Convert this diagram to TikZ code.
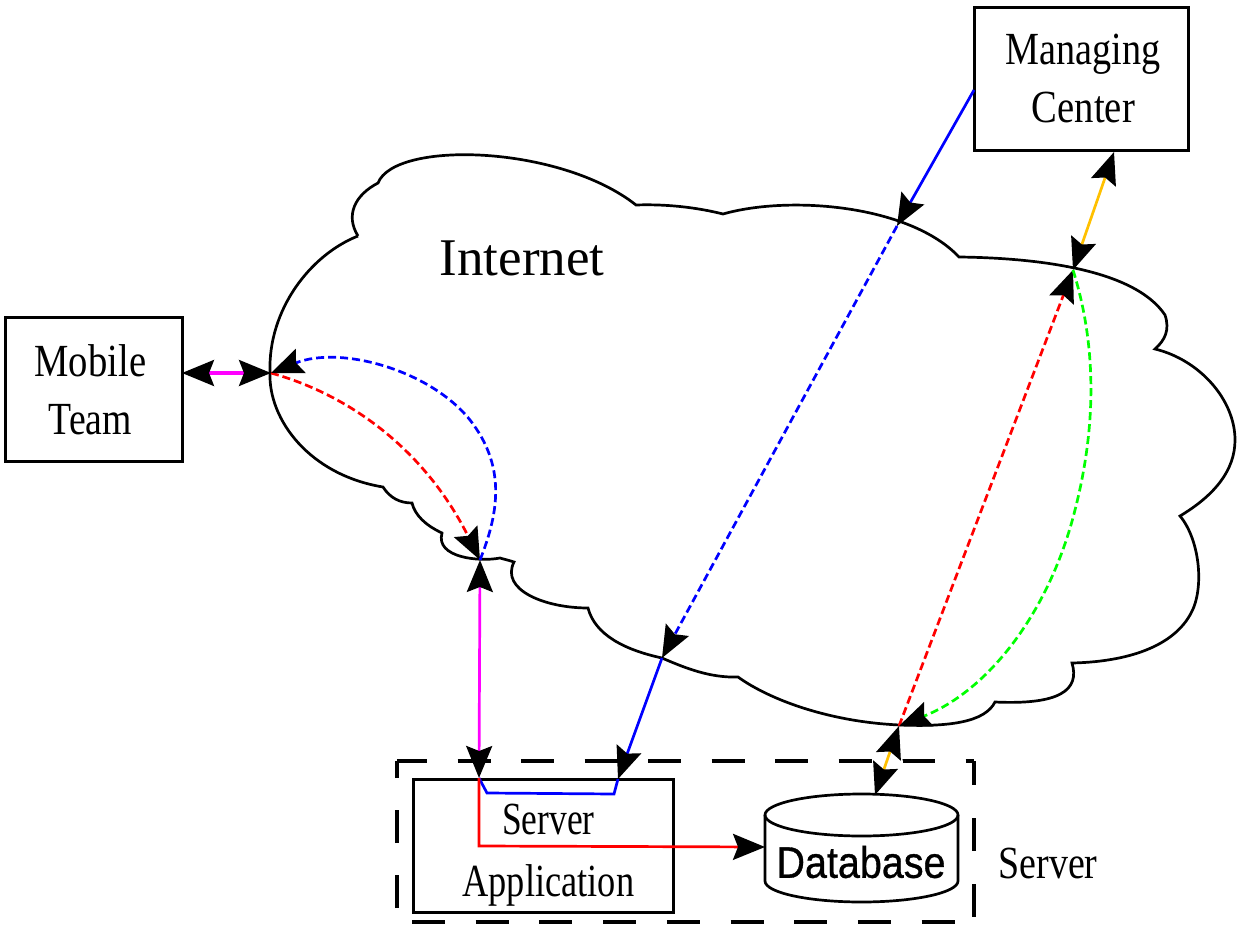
\documentclass[tikz,border=0pt]{standalone}
\usepackage{fontspec}
\setmainfont{Liberation Serif}
\newfontfamily\dbfont[FakeBold=0.8]{Liberation Sans}
\usetikzlibrary{arrows.meta}
\definecolor{linkorange}{RGB}{255,192,0}
\definecolor{linkgreen}{RGB}{0,255,0}
\definecolor{linkmagenta}{RGB}{255,0,255}
\definecolor{linkblue}{RGB}{0,0,255}
\definecolor{linkred}{RGB}{255,0,0}
\newcommand{\nar}[2][0.83]{\scalebox{#1}[1]{#2}}
\tikzset{
  bigtip/.tip={Stealth[black,length=32pt,width=26pt,inset=5pt]},
  >=bigtip,
  outline/.style={draw=black,line width=2.7pt},
  frameline/.style={draw=black,line width=3.3pt},
  boxnode/.style={outline,rectangle,inner sep=0pt,align=center,anchor=north west,font=\fontsize{46}{58}\selectfont},
  link/.style={line width=2.7pt},
  flatlink/.style={line width=3.3pt},
  dlink/.style={line width=2.7pt,dash pattern=on 8pt off 4pt},
  label/.style={inner sep=0pt}
}
\begin{document}
\begin{tikzpicture}[x=1pt,y=-1pt]
\path[use as bounding box] (0,0) rectangle (1239,925);
% cloud
\draw[outline,line join=miter] (358,236)
  .. controls (345,215) and (355,195) .. (378,183)
  .. controls (395,140) and (560,145) .. (636,205)
  .. controls (665,204) and (695,207) .. (723,214)
  .. controls (790,195) and (910,205) .. (959,257)
  .. controls (1040,258) and (1135,270) .. (1165,315)
  .. controls (1170,330) and (1165,340) .. (1155,349)
  .. controls (1200,360) and (1235,400) .. (1235,440)
  .. controls (1235,470) and (1215,495) .. (1180,516)
  .. controls (1200,540) and (1205,590) .. (1190,615)
  .. controls (1170,650) and (1120,662) .. (1072,663)
  .. controls (1080,690) and (1060,705) .. (995,702)
  .. controls (985,722) and (950,727) .. (900,725)
  .. controls (830,722) and (770,700) .. (738,677)
  .. controls (710,678) and (685,668) .. (662,658)
  .. controls (625,650) and (595,635) .. (588,608)
  .. controls (545,608) and (500,590) .. (514,562)
  .. controls (508,560) and (503,559) .. (500,558)
  .. controls (480,562) and (435,558) .. (442,533)
  .. controls (425,525) and (415,515) .. (412,503)
  .. controls (400,503) and (390,498) .. (383,487)
  .. controls (310,475) and (268,420) .. (270,372)
  .. controls (268,310) and (310,255) .. (358,236);
\node[label,font=\fontsize{53}{60}\selectfont] (internet) at (522,258) {Internet};
% boxes
\node[boxnode,minimum width=214pt,minimum height=143pt] (center) at (973,6) {\hspace*{4pt}\nar{Managing}\\\hspace*{4pt}\nar[0.84]{Center}};
\node[boxnode,minimum width=177pt,minimum height=144pt] (team) at (4,316) {\hspace*{-7pt}\nar[0.84]{Mobile}\\\hspace*{-7pt}\nar[0.82]{Team}};
\node[boxnode,minimum width=260pt,minimum height=133pt,font=\fontsize{46}{62}\selectfont] (app) at (412,778) {\rule{0pt}{50pt}\hspace*{10pt}\nar[0.77]{Server}\\\hspace*{10pt}\nar[0.79]{Application}};
\draw[frameline,dash pattern=on 33pt off 30.5pt,dash phase=3pt] (397,761) -- (974,761);
\draw[frameline,dash pattern=on 33pt off 33pt,dash phase=9pt] (974,761) -- (974,922);
\draw[frameline,dash pattern=on 33pt off 30.7pt] (412,922) -- (974,922);
\draw[frameline,dash pattern=on 33pt off 32pt] (397,908) -- (397,761);
\fill[white] (892,762) circle (11pt);
\node[label,font=\fontsize{46}{58}\selectfont] (serverlabel) at (1048,863) {\nar[0.825]{Server}};
% database
\draw[outline] (765,815) -- (765,881) arc[start angle=180,end angle=360,x radius=96.5pt,y radius=21pt] -- (958,815);
\draw[outline] (861.5,815) ellipse[x radius=96.5pt,y radius=21pt];
\node[label,font=\dbfont\fontsize{39.5}{46}\selectfont] (database) at (861,862) {\scalebox{1}[1.12]{Database}};
% junctions
\coordinate (cloudW) at (271,373);
\coordinate (cloudS) at (480,560);
\coordinate (cloudN) at (897,226);
\coordinate (cloudNE) at (1073,270);
\coordinate (cloudB) at (662,658);
\coordinate (cloudSE) at (899,726);
\coordinate (appN) at (479,778);
\coordinate (appNb) at (618,779);
\coordinate (dbN) at (875,795);
\coordinate (dbW) at (765,847);
\coordinate (centerW) at (974,90);
\coordinate (centerS) at (1114,152);
\coordinate (teamE) at (182,373);
% connectors
\draw[flatlink,linkmagenta,<->] (teamE) -- (cloudW);
\draw[link,linkmagenta,<->] (cloudS) -- (appN);
\draw[dlink,linkred,->] (cloudW) .. controls (350,395) and (425,450) .. (cloudS);
\draw[dlink,linkblue,->] (cloudS) .. controls (500,510) and (505,465) .. (470,420) .. controls (430,370) and (340,345) .. (cloudW);
\draw[link,linkblue,->] (centerW) -- (cloudN);
\draw[dlink,linkblue,->] (cloudN) -- (cloudB);
\draw[link,linkblue,->] (cloudB) -- (appNb);
\draw[link,linkblue,line join=miter] (appNb) -- (614,794) -- (487,793) -- (appN);
\draw[link,linkred,->,line join=miter] (appN) -- (479,846) -- (dbW);
\draw[link,linkorange,<->] (dbN) -- (cloudSE);
\draw[link,linkorange,<->] (cloudNE) -- (centerS);
\draw[dlink,linkred,->] (cloudSE) -- (cloudNE);
\draw[dlink,linkgreen,->] (cloudNE) .. controls (1095,340) and (1098,420) .. (1075,510) .. controls (1050,610) and (990,690) .. (cloudSE);
\end{tikzpicture}
\end{document}
